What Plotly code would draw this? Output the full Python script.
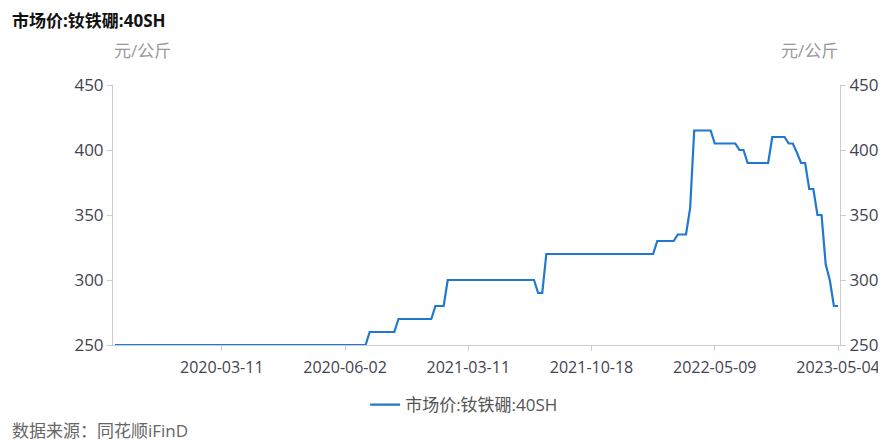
import numpy as np
import plotly.graph_objects as go

# Price levels (元/公斤) and number of consecutive observations at each level
levels = [250, 260, 270, 280, 300, 290, 320, 330, 335, 355, 415, 405, 400, 390,
          410, 405, 398, 390, 370, 350, 312, 300, 280]
runs = [62, 7, 9, 3, 22, 2, 27, 5, 3, 1, 5, 6, 2, 6, 4, 2, 1, 2, 2, 2, 1, 1, 2]

tick_labels = ["2020-03-11", "2020-06-02", "2021-03-11", "2021-10-18", "2022-05-09", "2023-05-04"]
tick_index = [26, 56, 86, 116, 146, 176]

series_name = "市场价:钕铁硼:40SH"

values = np.repeat(levels, runs)
idx = np.arange(len(values))
n = len(values)

FONT = "Open Sans, Noto Sans CJK SC, sans-serif"
TICKC = "#3f4452"
AXC = "#cccccc"
FS = 17

fig = go.Figure()
fig.add_trace(go.Scatter(x=idx, y=values, mode="lines", name=series_name,
                         line=dict(color="#1f78d1", width=2.2)))
fig.add_trace(go.Scatter(x=idx, y=values, mode="lines", yaxis="y2",
                         showlegend=False, hoverinfo="skip",
                         line=dict(color="rgba(0,0,0,0)", width=0)))

p = 1.0 / 4.108
fig.update_layout(
    width=886, height=441,
    margin=dict(l=105, r=54, t=77, b=104, autoexpand=False),
    paper_bgcolor="white", plot_bgcolor="white",
    font=dict(family=FONT, size=FS, color=TICKC),
    xaxis=dict(range=[-2 * p, (n - 1) + 2 * p], tickmode="array",
               tickvals=tick_index, ticktext=tick_labels, automargin=False,
               showgrid=False, zeroline=False, showline=True, linecolor=AXC,
               linewidth=1, ticks="outside", ticklen=5, tickcolor=AXC,
               ticklabelstandoff=3,
               tickfont=dict(size=16, color=TICKC, family=FONT)),
    yaxis=dict(range=[250, 450], dtick=50, showgrid=False, zeroline=False,
               automargin=False,
               showline=True, linecolor=AXC, ticks="outside", ticklen=5,
               tickcolor=AXC, tickfont=dict(size=FS, color=TICKC, family=FONT)),
    yaxis2=dict(range=[250, 450], dtick=50, overlaying="y", side="right",
                automargin=False,
                showgrid=False, zeroline=False, showline=True, linecolor=AXC,
                ticks="outside", ticklen=5, tickcolor=AXC,
                tickfont=dict(size=FS, color=TICKC, family=FONT)),
    showlegend=True,
    legend=dict(orientation="h", x=0.483, xanchor="center", y=-0.231, yanchor="middle",
                itemwidth=30,
                font=dict(size=FS, color="#555555", family=FONT)),
    annotations=[
        dict(text="<b>市场价:钕铁硼:40SH</b>", xref="paper", yref="paper",
             x=-0.1417, y=1.25, xanchor="left", yanchor="middle", showarrow=False,
             font=dict(size=FS, color="#111111", family=FONT)),
        dict(text="元/公斤", xref="paper", yref="paper", x=0.04, y=1.1346,
             xanchor="center", yanchor="middle", showarrow=False,
             font=dict(size=FS, color="#999999", family=FONT)),
        dict(text="元/公斤", xref="paper", yref="paper", x=0.9587, y=1.1346,
             xanchor="center", yanchor="middle", showarrow=False,
             font=dict(size=FS, color="#999999", family=FONT)),
        dict(text="数据来源：同花顺iFinD", xref="paper", yref="paper",
             x=-0.1417, y=-0.327, xanchor="left", yanchor="middle", showarrow=False,
             font=dict(size=FS, color="#666666", family=FONT)),
    ],
)

fig.write_html("out.html")
